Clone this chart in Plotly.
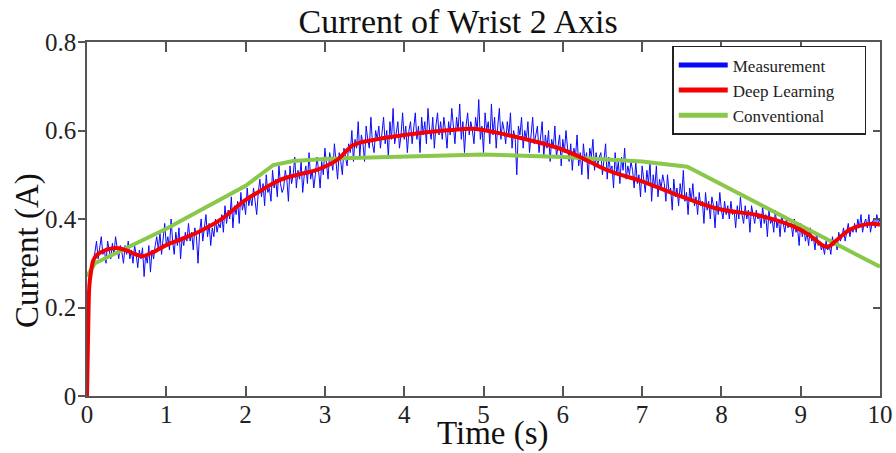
import plotly.graph_objects as go

# ---------------- data ----------------
MEAS_T0 = 0.08
MEAS_DT = 0.02
meas_current = [
    # 0.08 - 0.46
    0.30, 0.33, 0.35, 0.31, 0.34, 0.36, 0.32, 0.33, 0.30, 0.35, 0.33, 0.31, 0.345, 0.32, 0.36, 0.33, 0.31, 0.34, 0.325, 0.30,
    # 0.48 - 0.86
    0.34, 0.32, 0.35, 0.31, 0.33, 0.30, 0.34, 0.32, 0.29, 0.33, 0.31, 0.335, 0.27, 0.32, 0.30, 0.34, 0.28, 0.33, 0.31, 0.34,
    # 0.88 - 1.26
    0.36, 0.33, 0.37, 0.32, 0.35, 0.39, 0.34, 0.36, 0.33, 0.40, 0.35, 0.32, 0.37, 0.34, 0.38, 0.31, 0.36, 0.34, 0.37, 0.35,
    # 1.28 - 1.66
    0.39, 0.35, 0.37, 0.33, 0.38, 0.36, 0.30, 0.37, 0.40, 0.35, 0.38, 0.41, 0.36, 0.39, 0.34, 0.38, 0.36, 0.40, 0.37, 0.39,
    # 1.68 - 2.06
    0.38, 0.41, 0.37, 0.43, 0.39, 0.42, 0.40, 0.45, 0.38, 0.43, 0.41, 0.44, 0.39, 0.46, 0.42, 0.44, 0.41, 0.47, 0.43, 0.45,
    # 2.08 - 2.46
    0.43, 0.47, 0.44, 0.41, 0.46, 0.49, 0.45, 0.48, 0.43, 0.50, 0.46, 0.47, 0.44, 0.51, 0.47, 0.49, 0.45, 0.52, 0.48, 0.46,
    # 2.48 - 2.86
    0.47, 0.51, 0.49, 0.44, 0.52, 0.48, 0.50, 0.54, 0.47, 0.51, 0.49, 0.53, 0.46, 0.50, 0.52, 0.48, 0.55, 0.49, 0.51, 0.47,
    # 2.88 - 3.26
    0.50, 0.54, 0.51, 0.47, 0.53, 0.50, 0.56, 0.52, 0.49, 0.55, 0.53, 0.51, 0.57, 0.52, 0.49, 0.55, 0.53, 0.50, 0.56, 0.54,
    # 3.28 - 3.66
    0.52, 0.57, 0.55, 0.60, 0.53, 0.58, 0.56, 0.62, 0.54, 0.59, 0.57, 0.53, 0.61, 0.58, 0.56, 0.63, 0.57, 0.55, 0.60, 0.58,
    # 3.68 - 4.06
    0.61, 0.56, 0.59, 0.63, 0.57, 0.60, 0.54, 0.62, 0.58, 0.65, 0.57, 0.60, 0.62, 0.56, 0.59, 0.64, 0.58, 0.61, 0.55, 0.60,
    # 4.08 - 4.46
    0.62, 0.57, 0.60, 0.64, 0.58, 0.61, 0.55, 0.63, 0.59, 0.62, 0.57, 0.65, 0.60, 0.58, 0.63, 0.56, 0.61, 0.64, 0.59, 0.62,
    # 4.48 - 4.86
    0.58, 0.63, 0.60, 0.56, 0.62, 0.59, 0.65, 0.61, 0.57, 0.63, 0.60, 0.66, 0.58, 0.62, 0.55, 0.61, 0.64, 0.59, 0.62, 0.60,
    # 4.88 - 5.26
    0.57, 0.63, 0.60, 0.67, 0.58, 0.61, 0.55, 0.64, 0.60, 0.62, 0.57, 0.66, 0.59, 0.63, 0.56, 0.61, 0.65, 0.58, 0.62, 0.60,
    # 5.28 - 5.66
    0.57, 0.62, 0.59, 0.64, 0.56, 0.60, 0.58, 0.50, 0.61, 0.59, 0.63, 0.56, 0.60, 0.58, 0.62, 0.55, 0.60, 0.63, 0.57, 0.59,
    # 5.68 - 6.06
    0.61, 0.55, 0.58, 0.62, 0.54, 0.59, 0.56, 0.60, 0.53, 0.58, 0.56, 0.61, 0.54, 0.57, 0.59, 0.52, 0.58, 0.55, 0.60, 0.56,
    # 6.08 - 6.46
    0.53, 0.57, 0.51, 0.56, 0.54, 0.59, 0.52, 0.55, 0.50, 0.57, 0.53, 0.55, 0.49, 0.56, 0.54, 0.58, 0.51, 0.55, 0.52, 0.54,
    # 6.48 - 6.86
    0.55, 0.50, 0.53, 0.57, 0.49, 0.54, 0.51, 0.52, 0.47, 0.55, 0.50, 0.53, 0.48, 0.54, 0.51, 0.56, 0.49, 0.52, 0.50, 0.53,
    # 6.88 - 7.26
    0.51, 0.47, 0.53, 0.48, 0.50, 0.45, 0.52, 0.49, 0.46, 0.51, 0.48, 0.53, 0.44, 0.50, 0.47, 0.52, 0.45, 0.49, 0.47, 0.50,
    # 7.28 - 7.66
    0.48, 0.44, 0.50, 0.46, 0.47, 0.42, 0.49, 0.45, 0.47, 0.43, 0.48, 0.45, 0.51, 0.44, 0.46, 0.41, 0.47, 0.44, 0.48, 0.43,
    # 7.68 - 8.06
    0.45, 0.41, 0.46, 0.43, 0.44, 0.39, 0.46, 0.42, 0.44, 0.40, 0.45, 0.43, 0.38, 0.44, 0.41, 0.46, 0.42, 0.40, 0.44, 0.41,
    # 8.08 - 8.46
    0.43, 0.40, 0.44, 0.41, 0.42, 0.38, 0.43, 0.40, 0.45, 0.41, 0.39, 0.43, 0.40, 0.42, 0.37, 0.43, 0.41, 0.39, 0.42, 0.40,
    # 8.48 - 8.86
    0.41, 0.38, 0.43, 0.39, 0.41, 0.36, 0.42, 0.39, 0.40, 0.37, 0.42, 0.38, 0.40, 0.36, 0.41, 0.39, 0.37, 0.40, 0.38, 0.39,
    # 8.88 - 9.26
    0.39, 0.36, 0.40, 0.37, 0.38, 0.34, 0.39, 0.36, 0.38, 0.35, 0.37, 0.34, 0.38, 0.35, 0.36, 0.33, 0.37, 0.34, 0.35, 0.33,
    # 9.28 - 9.66
    0.34, 0.32, 0.35, 0.33, 0.34, 0.32, 0.36, 0.34, 0.35, 0.33, 0.37, 0.35, 0.36, 0.38, 0.35, 0.37, 0.39, 0.36, 0.38, 0.37,
    # 9.68 - 10.00
    0.39, 0.37, 0.40, 0.38, 0.41, 0.37, 0.39, 0.40, 0.38, 0.41, 0.37, 0.39, 0.40, 0.38, 0.41, 0.39, 0.40,
]
meas_time = [round(MEAS_T0 + i * MEAS_DT, 2) for i in range(len(meas_current))]

dl_time = [0, 0.01, 0.02, 0.03, 0.05, 0.08, 0.12, 0.2, 0.3, 0.4, 0.5, 0.6, 0.7, 0.8,
           1.0, 1.2, 1.43, 1.68, 2.0, 2.2, 2.43, 2.7, 2.9, 3.15, 3.36, 3.65, 4.0,
           4.58, 4.87, 5.3, 5.93, 6.22, 6.55, 7.0, 7.39, 7.98, 8.45, 8.9, 9.1,
           9.33, 9.45, 9.62, 9.87, 10.0]
dl_current = [0, 0.10, 0.20, 0.25, 0.28, 0.307, 0.318, 0.327, 0.333, 0.334, 0.329,
              0.321, 0.316, 0.322, 0.341, 0.355, 0.373, 0.398, 0.443, 0.465, 0.488,
              0.502, 0.511, 0.533, 0.567, 0.580, 0.590, 0.601, 0.604, 0.590, 0.561,
              0.540, 0.511, 0.485, 0.458, 0.422, 0.409, 0.384, 0.365, 0.337, 0.352,
              0.376, 0.389, 0.387]

conv_time = [0, 0.1, 1.0, 2.0, 2.35, 2.6, 3.1, 4.0, 5.0, 6.0, 7.0, 7.57, 10.0]
conv_current = [0.27, 0.30, 0.378, 0.475, 0.522, 0.531, 0.537, 0.542, 0.546, 0.540,
                0.530, 0.518, 0.292]

series_names = ["Measurement", "Deep Learning", "Conventional"]
x_ticks = [0, 1, 2, 3, 4, 5, 6, 7, 8, 9, 10]
y_ticks = [0, 0.2, 0.4, 0.6, 0.8]

# ---------------- style ----------------
BLUE = "rgb(10,10,250)"
RED = "rgb(245,0,0)"
GREEN = "rgb(138,200,75)"
SERIF = "Liberation Serif"
AXC = "#555555"
NBSP = "\u00a0"

fig = go.Figure()
fig.add_trace(go.Scatter(x=meas_time, y=meas_current, mode="lines",
                         line=dict(color=BLUE, width=1), showlegend=False))
fig.add_trace(go.Scatter(x=conv_time, y=conv_current, mode="lines",
                         line=dict(color=GREEN, width=4), showlegend=False))
fig.add_trace(go.Scatter(x=dl_time, y=dl_current, mode="lines", line_shape="spline",
                         line=dict(color=RED, width=4), showlegend=False))

# legend entries (thick samples)
legend_labels = [series_names[0], series_names[1] + NBSP * 6, series_names[2]]
for name, col in zip(legend_labels, [BLUE, RED, GREEN]):
    fig.add_trace(go.Scatter(x=[None], y=[None], mode="lines", name=name,
                             line=dict(color=col, width=5), yaxis="y2"))

fig.update_layout(
    width=896, height=453,
    margin=dict(l=87, r=16, t=42, b=57),
    paper_bgcolor="white", plot_bgcolor="white",
    font=dict(family=SERIF, color="#222222"),
    title=dict(text="Current of Wrist 2 Axis", font=dict(family=SERIF, size=34, color="#111"),
               xref="paper", x=0.468, xanchor="center",
               yref="container", y=0.953, yanchor="middle"),
    xaxis=dict(range=[0, 10], tickvals=x_ticks, showgrid=False, zeroline=False,
               automargin=False,
               showline=True, linecolor=AXC, linewidth=1.5, mirror="ticks",
               ticks="inside", ticklen=10, tickcolor=AXC, tickwidth=1.5,
               ticklabelstandoff=-5,
               tickfont=dict(family=SERIF, size=25, color="#222")),
    yaxis=dict(range=[0, 0.8], tickvals=y_ticks, showgrid=False, zeroline=False,
               automargin=False,
               showline=True, linecolor=AXC, linewidth=1.5, mirror=True,
               ticks="outside", ticklen=7, tickcolor=AXC, tickwidth=1.5,
               ticklabelstandoff=-3,
               tickfont=dict(family=SERIF, size=25, color="#222")),
    yaxis2=dict(range=[0, 0.8], tickvals=y_ticks, overlaying="y", side="right",
                automargin=False,
                showgrid=False, zeroline=False, showline=False, showticklabels=False,
                ticks="inside", ticklen=7, tickcolor=AXC, tickwidth=1.5),
    legend=dict(x=0.738, y=0.989, xanchor="left", yanchor="top",
                bordercolor="#222", borderwidth=1.5, bgcolor="white",
                font=dict(family=SERIF, size=17, color="#222"),
                itemwidth=49, tracegroupgap=0),
    showlegend=True,
    annotations=[
        dict(text="Time (s)", xref="paper", yref="paper", x=0.512, y=-0.105,
             xanchor="center", yanchor="middle", showarrow=False,
             font=dict(family=SERIF, size=33, color="#111")),
        dict(text="Current (A)", xref="paper", yref="paper", x=-0.0757, y=0.412,
             xanchor="center", yanchor="middle", textangle=-90, showarrow=False,
             font=dict(family=SERIF, size=33, color="#111")),
    ],
)

fig.write_html("out.html")
